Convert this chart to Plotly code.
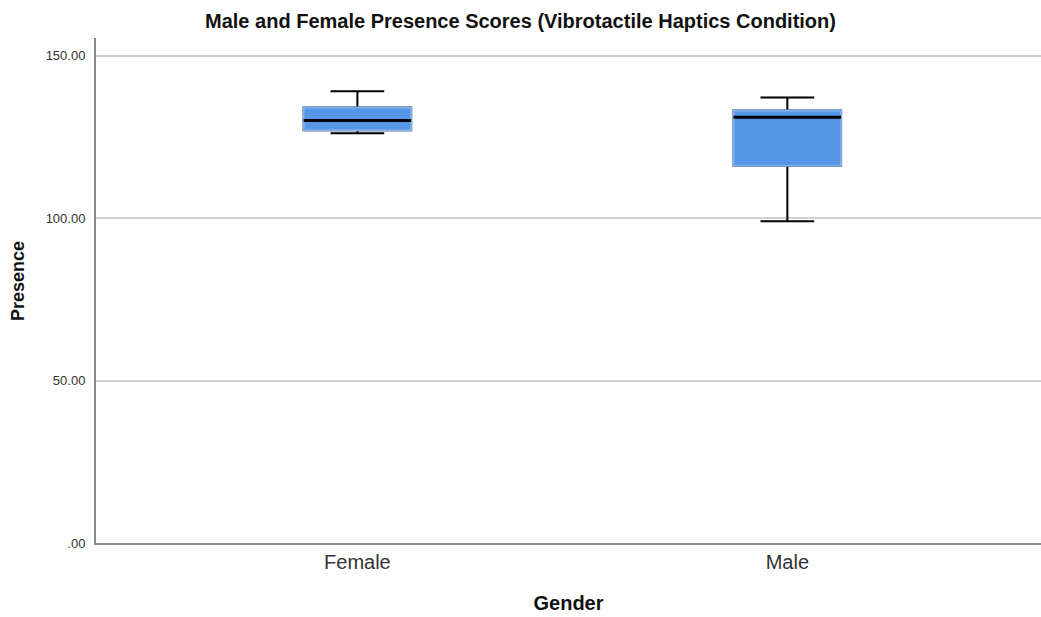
import plotly.graph_objects as go

categories = ["Female", "Male"]
lower_whisker = [126.2, 99.1]
q1_values = [127.1, 116.2]
median_values = [130.1, 131.1]
q3_values = [134.1, 133.2]
upper_whisker = [139.1, 137.2]

y_tickvals = [0, 50, 100, 150]
y_ticktext = [".00", "50.00", "100.00", "150.00"]

FILL = "#5596e6"
EDGE = "#7fb0ec"
FONT = "Liberation Sans, Arial, sans-serif"

fig = go.Figure()

# whiskers (black)
fig.add_trace(go.Box(
    x=categories, q1=q1_values, median=median_values, q3=q3_values,
    lowerfence=lower_whisker, upperfence=upper_whisker,
    width=0.25, whiskerwidth=0.5, fillcolor=FILL,
    line=dict(color="black", width=2), showlegend=False, hoverinfo="skip",
))
# blue box body with light edge
fig.add_trace(go.Box(
    x=categories, q1=q1_values, median=median_values, q3=q3_values,
    lowerfence=q1_values, upperfence=q3_values,
    width=0.25, whiskerwidth=0, fillcolor=FILL,
    line=dict(color=EDGE, width=2), showlegend=False, hoverinfo="skip",
))
# median line
fig.add_trace(go.Box(
    x=categories, q1=median_values, median=median_values, q3=median_values,
    lowerfence=median_values, upperfence=median_values,
    width=0.25, whiskerwidth=0, fillcolor="rgba(0,0,0,0)",
    line=dict(color="black", width=3), showlegend=False, hoverinfo="skip",
))

fig.update_layout(
    width=1041, height=617,
    boxmode="overlay",
    paper_bgcolor="white", plot_bgcolor="white",
    margin=dict(l=96, r=0, t=38, b=74),
    font=dict(family=FONT, color="#222"),
    title=dict(text="<b>Male and Female Presence Scores (Vibrotactile Haptics Condition)</b>",
               x=0.5, xanchor="center", y=0.966, yanchor="middle",
               font=dict(size=20, color="#111", family=FONT)),
    xaxis=dict(
        range=[-0.608, 1.590], showgrid=False, zeroline=False,
        showline=True, linecolor="#888", linewidth=2,
        tickfont=dict(size=20, color="#333", family=FONT),
        title=dict(text="<b>Gender</b>", font=dict(size=20, color="#111", family=FONT), standoff=24),
        ticks="",
    ),
    yaxis=dict(
        range=[0, 155.5], tickvals=y_tickvals, ticktext=y_ticktext,
        showgrid=True, gridcolor="#d0d0d0", gridwidth=2, zeroline=False,
        showline=True, linecolor="#888", linewidth=2,
        tickfont=dict(size=13, color="#333", family=FONT),
        ticklabelstandoff=6,
        ticks="",
    ),
    annotations=[dict(
        text="<b>Presence</b>", textangle=-90, xref="paper", yref="paper",
        x=-0.0825, y=0.519, xanchor="center", yanchor="middle", showarrow=False,
        font=dict(size=18, color="#111", family=FONT),
    )],
)

fig.write_html("out.html", config={"displayModeBar": False},
               post_script="document.body.style.margin='0';document.body.style.overflow='hidden';")
